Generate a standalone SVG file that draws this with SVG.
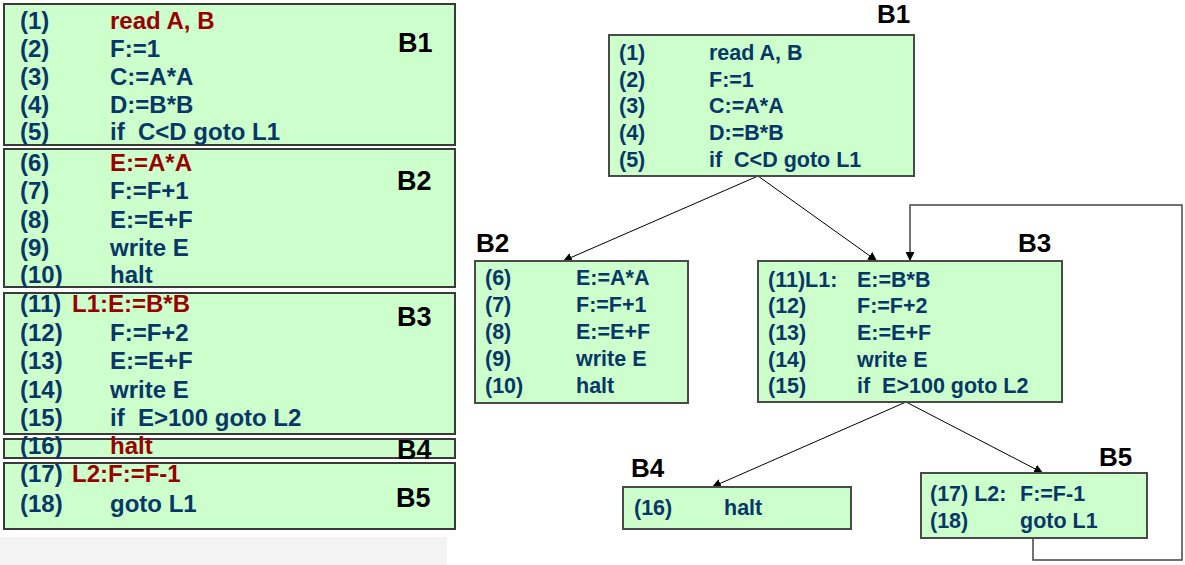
<svg xmlns="http://www.w3.org/2000/svg" width="1185" height="565" viewBox="0 0 1185 565">
<style>
text{white-space:pre}
.box{fill:#ccffcc;stroke:#3a3a3a;stroke-width:2}
.nb{fill:#ccffcc;stroke:#4a4a4a;stroke-width:2}
.t{font-family:"Liberation Sans",Arial,sans-serif;font-weight:bold;font-size:24px;fill:#073766}
.r{fill:#990000}
.s{font-family:"Liberation Sans",Arial,sans-serif;font-weight:bold;font-size:21.5px;fill:#073766}
.lb{font-family:"Liberation Sans",Arial,sans-serif;font-weight:bold;font-size:27px;fill:#000}
.lr{font-family:"Liberation Sans",Arial,sans-serif;font-weight:bold;font-size:26px;fill:#000}
.e{fill:none;stroke:#000;stroke-width:1}
.loop{fill:none;stroke:#444;stroke-width:1.5}
</style>
<defs>
<marker id="ah" viewBox="0 0 10 10" refX="10" refY="5" markerWidth="9" markerHeight="9" markerUnits="userSpaceOnUse" orient="auto">
<path d="M0,0 L10,5 L0,10 z" fill="#000"/>
</marker>
</defs>
<rect x="0" y="537" width="447" height="28" fill="#f3f3f3"/>
<g id="left-B1">
<rect class="box" x="4" y="4" width="451" height="141"/>
<text class="t" x="20" y="29">(1)</text><text class="t r" x="110" y="29">read A, B</text>
<text class="t" x="20" y="57">(2)</text><text class="t" x="110" y="57">F:=1</text>
<text class="t" x="20" y="85">(3)</text><text class="t" x="110" y="85">C:=A*A</text>
<text class="t" x="20" y="113">(4)</text><text class="t" x="110" y="113">D:=B*B</text>
<text class="t" x="20" y="140" xml:space="preserve">(5)</text><text class="t" x="110" y="140" xml:space="preserve">if  C&lt;D goto L1</text>
<text class="lb" x="398" y="52">B1</text>
</g>
<g id="left-B2">
<rect class="box" x="4" y="149" width="451" height="138"/>
<text class="t" x="20" y="171">(6)</text><text class="t r" x="110" y="171">E:=A*A</text>
<text class="t" x="20" y="199">(7)</text><text class="t" x="110" y="199">F:=F+1</text>
<text class="t" x="20" y="228">(8)</text><text class="t" x="110" y="228">E:=E+F</text>
<text class="t" x="20" y="256">(9)</text><text class="t" x="110" y="256">write E</text>
<text class="t" x="20" y="283">(10)</text><text class="t" x="110" y="283">halt</text>
<text class="lb" x="397" y="190">B2</text>
</g>
<g id="left-B3">
<rect class="box" x="4" y="293" width="451" height="141"/>
<text class="t" x="20" y="312">(11)</text><text class="t r" x="72" y="312">L1:E:=B*B</text>
<text class="t" x="20" y="341">(12)</text><text class="t" x="110" y="341">F:=F+2</text>
<text class="t" x="20" y="369">(13)</text><text class="t" x="110" y="369">E:=E+F</text>
<text class="t" x="20" y="398">(14)</text><text class="t" x="110" y="398">write E</text>
<text class="t" x="20" y="426">(15)</text><text class="t" x="110" y="426" xml:space="preserve">if  E&gt;100 goto L2</text>
<text class="lb" x="397" y="326">B3</text>
</g>
<g id="left-B4">
<rect class="box" x="4" y="439" width="451" height="19"/>
<text class="t" x="20" y="454">(16)</text><text class="t r" x="110" y="454">halt</text>
<text class="lb" x="397" y="459">B4</text>
</g>
<g id="left-B5">
<rect class="box" x="4" y="463" width="451" height="66"/>
<text class="t" x="20" y="482">(17)</text><text class="t r" x="72" y="482">L2:F:=F-1</text>
<text class="t" x="20" y="512">(18)</text><text class="t" x="110" y="512">goto L1</text>
<text class="lb" x="396" y="507">B5</text>
</g>
<g id="connectors">
<line class="e" x1="758" y1="176" x2="563" y2="261" marker-end="url(#ah)"/>
<line class="e" x1="758" y1="176" x2="877" y2="261" marker-end="url(#ah)"/>
<line class="e" x1="906" y1="402" x2="712" y2="487" marker-end="url(#ah)"/>
<line class="e" x1="906" y1="402" x2="1043" y2="473" marker-end="url(#ah)"/>
<path class="loop" d="M1033,538 V560 H1182 V205 H910 V261" marker-end="url(#ah)"/>
</g>
<g id="B1">
<rect class="nb" x="609" y="35" width="305" height="141"/>
<text class="s" x="619" y="60">(1)</text><text class="s" x="709" y="60">read A, B</text>
<text class="s" x="619" y="87">(2)</text><text class="s" x="709" y="87">F:=1</text>
<text class="s" x="619" y="113">(3)</text><text class="s" x="709" y="113">C:=A*A</text>
<text class="s" x="619" y="140">(4)</text><text class="s" x="709" y="140">D:=B*B</text>
<text class="s" x="619" y="167">(5)</text><text class="s" x="709" y="167" xml:space="preserve">if  C&lt;D goto L1</text>
<text class="lr" x="877" y="23">B1</text>
</g>
<g id="B2">
<rect class="nb" x="475" y="261" width="213" height="142"/>
<text class="s" x="485" y="285">(6)</text><text class="s" x="576" y="285">E:=A*A</text>
<text class="s" x="485" y="312">(7)</text><text class="s" x="576" y="312">F:=F+1</text>
<text class="s" x="485" y="339">(8)</text><text class="s" x="576" y="339">E:=E+F</text>
<text class="s" x="485" y="366">(9)</text><text class="s" x="576" y="366">write E</text>
<text class="s" x="485" y="393">(10)</text><text class="s" x="576" y="393">halt</text>
<text class="lr" x="476" y="252">B2</text>
</g>
<g id="B3">
<rect class="nb" x="758" y="261" width="304" height="141"/>
<text class="s" x="768" y="287">(11)L1:</text><text class="s" x="857" y="287">E:=B*B</text>
<text class="s" x="768" y="313">(12)</text><text class="s" x="857" y="313">F:=F+2</text>
<text class="s" x="768" y="340">(13)</text><text class="s" x="857" y="340">E:=E+F</text>
<text class="s" x="768" y="367">(14)</text><text class="s" x="857" y="367">write E</text>
<text class="s" x="768" y="393">(15)</text><text class="s" x="857" y="393" xml:space="preserve">if  E&gt;100 goto L2</text>
<text class="lr" x="1018" y="252">B3</text>
</g>
<g id="B4">
<rect class="nb" x="623" y="487" width="228" height="42"/>
<text class="s" x="634" y="515">(16)</text><text class="s" x="724" y="515">halt</text>
<text class="lr" x="631" y="477">B4</text>
</g>
<g id="B5">
<rect class="nb" x="921" y="473" width="226" height="65"/>
<text class="s" x="930" y="501">(17) L2:</text><text class="s" x="1020" y="501">F:=F-1</text>
<text class="s" x="930" y="528">(18)</text><text class="s" x="1020" y="528">goto L1</text>
<text class="lr" x="1099" y="466">B5</text>
</g>
</svg>
